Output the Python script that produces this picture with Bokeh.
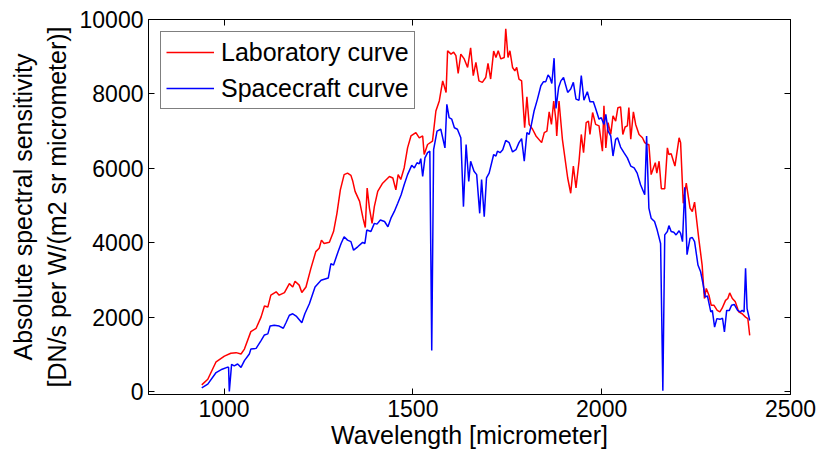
from bokeh.plotting import figure
from bokeh.models import LinearAxis, FixedTicker, Legend, LegendItem, Range1d
from bokeh.embed import file_html
from bokeh.resources import INLINE

# Laboratory curve (red)
lab_wl = [941, 957, 979, 1001, 1018, 1032, 1045, 1054, 1071, 1085, 1098, 1107, 1116, 1124, 1138, 1146,
          1160, 1173, 1182, 1188, 1199, 1206, 1217, 1230, 1243, 1252, 1258, 1265, 1279, 1290, 1299, 1308,
          1318, 1327, 1336, 1341, 1347, 1359, 1368, 1374, 1379, 1385, 1392, 1398, 1407, 1420, 1438, 1447,
          1455, 1461, 1468, 1477, 1486, 1495, 1508, 1517, 1526, 1530, 1539, 1552, 1561, 1570, 1579, 1588,
          1592, 1601, 1608, 1614, 1620, 1627, 1636, 1645, 1653, 1660, 1667, 1675, 1684, 1693, 1699, 1706,
          1714, 1720, 1726, 1733, 1742, 1746, 1752, 1757, 1764, 1770, 1775, 1781, 1788, 1796, 1802, 1808,
          1817, 1826, 1841, 1848, 1855, 1861, 1867, 1873, 1879, 1881, 1887, 1896, 1910, 1918, 1925, 1932,
          1940, 1946, 1952, 1959, 1965, 1969, 1976, 1984, 1993, 2002, 2006, 2011, 2017, 2024, 2030, 2037,
          2043, 2050, 2056, 2062, 2068, 2072, 2077, 2084, 2090, 2099, 2108, 2114, 2121, 2125, 2131, 2137,
          2142, 2146, 2152, 2158, 2167, 2174, 2178, 2184, 2194, 2205, 2209, 2216, 2224, 2234, 2240, 2246,
          2257, 2266, 2272, 2277, 2284, 2290, 2297, 2306, 2313, 2319, 2328, 2334, 2339, 2346, 2354, 2363,
          2372, 2381, 2387, 2392]
lab_val = [180, 330, 800, 950, 1030, 1045, 1010, 1140, 1610, 1700, 2000, 2300, 2270, 2590, 2680, 2590,
           2660, 2900, 2810, 2965, 2860, 2660, 2810, 3310, 3760, 3850, 4070, 3980, 4010, 4300, 4790, 5420,
           5830, 5870, 5810, 5650, 5380, 5110, 4660, 4410, 5470, 4930, 4520, 4970, 5380, 5600, 5780, 5740,
           5420, 5830, 5700, 6010, 6550, 6870, 6960, 6820, 6870, 6370, 6640, 6730, 7540, 7810, 8350, 8040,
           9160, 9070, 9120, 9030, 8550, 9070, 8940, 8710, 9240, 8490, 8850, 8350, 8310, 8440, 8820, 8400,
           9150, 8980, 9160, 8940, 8980, 9750, 8980, 9160, 8710, 8620, 8710, 8400, 8350, 7090, 7920, 7180,
           7050, 6870, 6690, 6960, 7000, 7520, 7180, 7810, 7270, 6870, 7810, 6780, 5740, 5330, 6060, 5470,
           6190, 6910, 6420, 7230, 7270, 6910, 7500, 7180, 7140, 6460, 7680, 6550, 7230, 6910, 7410, 7270,
           7630, 7650, 6910, 7110, 7140, 7630, 6780, 7520, 7180, 6910, 6820, 6690, 6640, 6640, 5830, 6010,
           6150, 5870, 6190, 5450, 5450, 6550, 6370, 6390, 6060, 6820, 6690, 5060, 5600, 4930, 4840, 5090,
           4120, 3400, 2500, 2770, 2590, 2320, 2320, 2180, 2140, 2240, 2450, 2500, 2650, 2500, 2410, 2140,
           2090, 2000, 1960, 1510]

# Spacecraft curve (blue)
sc_wl = [941, 957, 979, 995, 1008, 1012, 1014, 1020, 1027, 1036, 1045, 1054, 1067, 1071, 1085, 1098,
         1107, 1116, 1122, 1133, 1146, 1157, 1164, 1173, 1182, 1191, 1206, 1214, 1226, 1241, 1257, 1276,
         1283, 1290, 1302, 1310, 1318, 1327, 1336, 1343, 1354, 1367, 1373, 1378, 1389, 1398, 1405, 1414,
         1425, 1434, 1442, 1451, 1460, 1469, 1477, 1486, 1497, 1504, 1511, 1517, 1521, 1526, 1532, 1539,
         1545, 1550, 1555, 1564, 1574, 1585, 1590, 1596, 1603, 1610, 1618, 1627, 1634, 1641, 1648, 1653,
         1662, 1669, 1677, 1682, 1689, 1695, 1702, 1714, 1720, 1724, 1731, 1738, 1746, 1755, 1764, 1773,
         1781, 1788, 1795, 1802, 1808, 1814, 1821, 1830, 1839, 1846, 1852, 1858, 1863, 1868, 1874, 1879,
         1886, 1892, 1899, 1910, 1918, 1925, 1932, 1940, 1946, 1953, 1962, 1969, 1978, 1984, 1993, 1999,
         2006, 2011, 2017, 2024, 2030, 2037, 2042, 2050, 2059, 2068, 2077, 2086, 2094, 2103, 2114, 2119,
         2125, 2131, 2140, 2147, 2156, 2162, 2167, 2174, 2178, 2184, 2191, 2197, 2205, 2209, 2214, 2220,
         2226, 2234, 2240, 2246, 2255, 2262, 2269, 2274, 2280, 2289, 2293, 2299, 2305, 2313, 2320, 2325,
         2331, 2338, 2344, 2351, 2360, 2367, 2372, 2377, 2381, 2385, 2392]
sc_val = [100, 200, 510, 600, 650, 650, 0, 730, 690, 740, 650, 830, 1010, 1140, 1160, 1370,
          1520, 1550, 1760, 1780, 1760, 1700, 1850, 2050, 2090, 2030, 1850, 2090, 2360, 2810, 2990, 3050,
          3440, 3400, 3760, 3980, 4160, 4070, 4030, 3800, 3890, 4010, 3980, 4340, 4300, 4520, 4500, 4610,
          4570, 4430, 4660, 4840, 5060, 5290, 5560, 5830, 6080, 6010, 6150, 6120, 6260, 5780, 6280, 6420,
          6460, 1100, 6500, 7000, 7050, 6550, 7720, 7360, 7320, 7090, 7050, 6820, 4970, 6640, 5650, 6190,
          5920, 5830, 4790, 5700, 4700, 5740, 5870, 6370, 6330, 6460, 6420, 6500, 6750, 6690, 6440, 6500,
          6690, 6800, 6190, 6960, 6910, 7180, 7540, 7860, 8220, 8330, 8330, 8510, 8440, 8280, 8960, 7610,
          8170, 8350, 8440, 8040, 8130, 8310, 7860, 7830, 8490, 7830, 8060, 7790, 7790, 7610, 7320, 7360,
          7180, 7450, 7000, 6870, 6330, 6780, 6820, 6570, 6420, 6280, 6060, 6010, 5870, 5560, 5290, 6870,
          4930, 4660, 4570, 4340, 3980, 20, 4210, 4300, 4460, 4300, 4280, 4210, 4320, 4250, 4030, 5490,
          3680, 4120, 4140, 4030, 3400, 3220, 2860, 2540, 2570, 2140, 2180, 1730, 1960, 1940, 1970, 1600,
          2180, 2180, 2320, 2340, 2180, 2140, 2180, 2140, 3310, 2230, 1910]

x_ticks = [1000, 1500, 2000, 2500]
y_ticks = [0, 2000, 4000, 6000, 8000, 10000]
series_names = ["Laboratory curve", "Spacecraft curve"]
x_title = "Wavelength [micrometer]"
y_title = "Absolute spectral sensitivity\n[DN/s per W/(m2 sr micrometer)]"

FONT = "Liberation Sans"

p = figure(width=820, height=452, output_backend="svg", toolbar_location=None,
           x_range=Range1d(800, 2500), y_range=Range1d(-80, 10000),
           min_border_left=148, min_border_right=30, min_border_top=19, min_border_bottom=58)
p.background_fill_color = "white"
p.border_fill_color = "white"
p.outline_line_color = "black"
p.outline_line_width = 1
p.grid.visible = False

r1 = p.line(lab_wl, lab_val, line_color="#ff0000", line_width=1.5)
r2 = p.line(sc_wl, sc_val, line_color="#0000ff", line_width=1.5)

def style_axis(ax, show_labels=True):
    ax.axis_line_color = "black"
    ax.major_tick_in = 6
    ax.major_tick_out = 0
    ax.minor_tick_line_color = None
    ax.major_tick_line_color = "black"
    if show_labels:
        ax.major_label_text_font = FONT
        ax.major_label_text_font_size = "23px"
        ax.major_label_text_color = "black"
    else:
        ax.major_label_text_font_size = "0px"
        ax.major_label_text_color = None

xa = p.xaxis[0]
xa.ticker = FixedTicker(ticks=x_ticks)
style_axis(xa)
xa.major_label_standoff = 5
xa.axis_label = x_title
xa.axis_label_text_font = FONT
xa.axis_label_text_font_size = "25px"
xa.axis_label_text_font_style = "normal"
xa.axis_label_text_color = "black"
xa.axis_label_standoff = 1

ya = p.yaxis[0]
ya.ticker = FixedTicker(ticks=y_ticks)
style_axis(ya)
ya.major_label_standoff = 5
ya.axis_label = y_title
ya.axis_label_text_font = FONT
ya.axis_label_text_font_size = "25px"
ya.axis_label_text_font_style = "normal"
ya.axis_label_text_color = "black"
ya.axis_label_standoff = 6

top = LinearAxis(ticker=FixedTicker(ticks=x_ticks))
style_axis(top, False)
p.add_layout(top, "above")
right = LinearAxis(ticker=FixedTicker(ticks=y_ticks))
style_axis(right, False)
p.add_layout(right, "right")

legend = Legend(items=[LegendItem(label=series_names[0], renderers=[r1]),
                       LegendItem(label=series_names[1], renderers=[r2])],
                location="top_left")
legend.label_text_font = FONT
legend.label_text_font_size = "25px"
legend.label_text_color = "black"
legend.glyph_width = 48
legend.glyph_height = 30
legend.label_height = 30
legend.spacing = 6
legend.padding = 5
legend.margin = 12
legend.label_standoff = 7
legend.border_line_color = "black"
legend.border_line_width = 1
legend.background_fill_alpha = 1
p.add_layout(legend)

open("out.html", "w").write(file_html(p, INLINE))
